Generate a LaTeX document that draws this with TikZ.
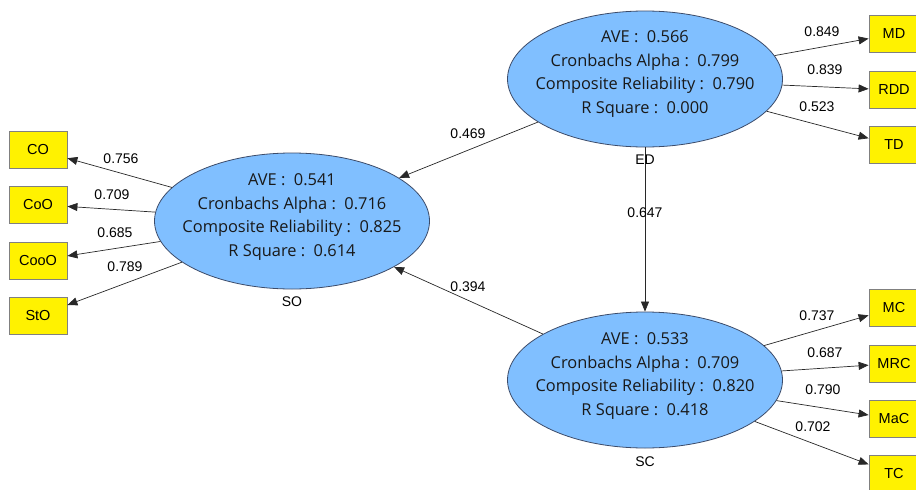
\documentclass[tikz,border=0pt]{standalone}
\usepackage{fontspec}
\setmainfont{Liberation Sans}
\newfontfamily\ellfont{Open Sans}
\usetikzlibrary{shapes.geometric,arrows.meta}
\definecolor{ellfill}{RGB}{128,191,255}
\definecolor{elldraw}{RGB}{60,75,105}
\definecolor{boxdraw}{RGB}{128,128,128}
\definecolor{linecol}{RGB}{40,40,40}
\tikzset{
  latent/.style={ellipse, draw=elldraw, fill=ellfill, line width=0.8pt, minimum width=275pt, minimum height=136pt, inner sep=0pt},
  ltext/.style={align=center, font=\ellfont\fontsize{16.4}{23.7}\selectfont, text=black!90, inner sep=0pt},
  indic/.style={rectangle, draw=boxdraw, fill=yellow, line width=0.8pt, minimum width=58pt, minimum height=37pt, inner sep=0pt, font=\fontsize{14.5}{16}\selectfont},
  indicr/.style={indic, minimum width=50pt},
  conn/.style={draw=linecol, line width=0.7pt, -{Triangle[length=10pt,width=8pt]}},
  num/.style={font=\fontsize{14}{16}\selectfont, inner sep=0pt},
  lname/.style={font=\fontsize{14}{16}\selectfont, inner sep=0pt}
}
\begin{document}
\begin{tikzpicture}[x=1pt,y=-1pt]
\useasboundingbox (0,0) rectangle (916,490);
% latent variables
\node[latent] (SO) at (292,221) {};
\node[latent] (ED) at (645,79) {};
\node[latent] (SC) at (645,380) {};
\node[ltext] (SOt) at (292,217) {AVE :\ \ 0.541\\Cronbachs Alpha :\ \ 0.716\\Composite Reliability :\ \ 0.825\\R Square :\ \ 0.614};
\node[ltext] (EDt) at (645,74) {AVE :\ \ 0.566\\Cronbachs Alpha :\ \ 0.799\\Composite Reliability :\ \ 0.790\\R Square :\ \ 0.000};
\node[ltext] (SCt) at (645,376) {AVE :\ \ 0.533\\Cronbachs Alpha :\ \ 0.709\\Composite Reliability :\ \ 0.820\\R Square :\ \ 0.418};
% indicators
\node[indic] (CO) at (38,150) {CO};
\node[indic] (CoO) at (38,204.5) {CoO};
\node[indic] (CooO) at (38,260.5) {CooO};
\node[indic] (StO) at (38,316) {StO};
\node[indicr] (MD) at (894,34) {MD};
\node[indicr] (RDD) at (894,90) {RDD};
\node[indicr] (TD) at (894,145) {TD};
\node[indicr] (MC) at (894,308) {MC};
\node[indicr] (MRC) at (894,363.5) {MRC};
\node[indicr] (MaC) at (894,419) {MaC};
\node[indicr] (TC) at (894,474) {TC};
% connectors
\draw[conn] (SO) -- (CO);
\draw[conn] (SO) -- (CoO);
\draw[conn] (SO) -- (CooO);
\draw[conn] (SO) -- (StO);
\draw[conn] (ED) -- (MD);
\draw[conn] (ED) -- (RDD);
\draw[conn] (ED) -- (TD);
\draw[conn] (SC) -- (MC);
\draw[conn] (SC) -- (MRC);
\draw[conn] (SC) -- (MaC);
\draw[conn] (SC) -- (TC);
\draw[conn] (ED) -- (SO);
\draw[conn] (SC) -- (SO);
\draw[conn] (ED) -- (SC);
% names
\node[lname] (SOn) at (292,302) {SO};
\node[lname] (EDn) at (645,160) {ED};
\node[lname] (SCn) at (645,462) {SC};
% path coefficients
\node[num] (l1) at (468,134) {0.469};
\node[num] (l2) at (468,287) {0.394};
\node[num] (l3) at (645,213) {0.647};
% loadings
\node[num] (a1) at (121,159) {0.756};
\node[num] (a2) at (112,195) {0.709};
\node[num] (a3) at (115,233) {0.685};
\node[num] (a4) at (125,267) {0.789};
\node[num] (b1) at (822,32) {0.849};
\node[num] (b2) at (825,70) {0.839};
\node[num] (b3) at (817,107) {0.523};
\node[num] (c1) at (817,316) {0.737};
\node[num] (c2) at (825,353) {0.687};
\node[num] (c3) at (823,390) {0.790};
\node[num] (c4) at (813,427) {0.702};
\end{tikzpicture}
\end{document}
